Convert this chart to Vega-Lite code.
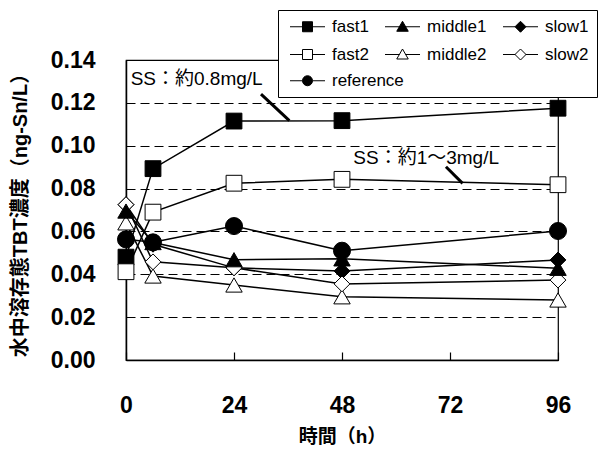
{
  "$schema": "https://vega.github.io/schema/vega-lite/v6.json",
  "autosize": {"type": "none"},
  "padding": {"left": 126, "top": 60, "right": 40, "bottom": 90},
  "width": 432,
  "height": 300,
  "background": "white",
  "config": {
    "view": {"stroke": "black", "strokeWidth": 1.2},
    "font": "Liberation Sans, Noto Sans CJK JP",
    "legend": {
      "symbolStrokeWidth": 1,
      "orient": "none",
      "columns": 3, "direction": "horizontal",
      "padding": 8,
      "labelFont": "Liberation Sans", "labelFontSize": 17, "labelColor": "black",
      "labelOffset": 16, "symbolOffset": 13,
      "symbolSize": 100,
      "rowPadding": 10, "columnPadding": 12
    }
  },
  "datasets": {
    "series": [
      {"series": "fast1", "hour": 0, "conc": 0.048},
      {"series": "fast1", "hour": 6, "conc": 0.0893},
      {"series": "fast1", "hour": 24, "conc": 0.1115},
      {"series": "fast1", "hour": 48, "conc": 0.1117},
      {"series": "fast1", "hour": 96, "conc": 0.1175},
      {"series": "fast2", "hour": 0, "conc": 0.0412},
      {"series": "fast2", "hour": 6, "conc": 0.069},
      {"series": "fast2", "hour": 24, "conc": 0.0825},
      {"series": "fast2", "hour": 48, "conc": 0.0843},
      {"series": "fast2", "hour": 96, "conc": 0.0818},
      {"series": "middle2", "hour": 0, "conc": 0.064},
      {"series": "middle2", "hour": 6, "conc": 0.0392},
      {"series": "middle2", "hour": 24, "conc": 0.035},
      {"series": "middle2", "hour": 48, "conc": 0.0295},
      {"series": "middle2", "hour": 96, "conc": 0.028},
      {"series": "slow1", "hour": 0, "conc": 0.0725},
      {"series": "slow1", "hour": 6, "conc": 0.054},
      {"series": "slow1", "hour": 24, "conc": 0.043},
      {"series": "slow1", "hour": 48, "conc": 0.0415},
      {"series": "slow1", "hour": 96, "conc": 0.0467},
      {"series": "slow2", "hour": 0, "conc": 0.0725},
      {"series": "slow2", "hour": 6, "conc": 0.0458},
      {"series": "slow2", "hour": 24, "conc": 0.043},
      {"series": "slow2", "hour": 48, "conc": 0.0355},
      {"series": "slow2", "hour": 96, "conc": 0.0373},
      {"series": "middle1", "hour": 0, "conc": 0.0695},
      {"series": "middle1", "hour": 6, "conc": 0.0548},
      {"series": "middle1", "hour": 24, "conc": 0.0468},
      {"series": "middle1", "hour": 48, "conc": 0.0472},
      {"series": "middle1", "hour": 96, "conc": 0.0428},
      {"series": "reference", "hour": 0, "conc": 0.0563},
      {"series": "reference", "hour": 6, "conc": 0.0549},
      {"series": "reference", "hour": 24, "conc": 0.0625},
      {"series": "reference", "hour": 48, "conc": 0.051},
      {"series": "reference", "hour": 96, "conc": 0.0602}
    ],
    "notes": [
      {"label": "SS：約0.8mg/L", "hour": 15.7, "conc": 0.1311},
      {"label": "SS：約1〜3mg/L", "hour": 66.7, "conc": 0.0943}
    ],
    "callouts": [
      {"hour": 30.0, "conc": 0.1241, "hour2": 36.3, "conc2": 0.1117},
      {"hour": 71.1, "conc": 0.0902, "hour2": 74.8, "conc2": 0.0824}
    ]
  },
  "encoding": {
    "x": {
      "field": "hour", "type": "quantitative",
      "scale": {"domain": [0, 96], "nice": false, "zero": false},
      "axis": {
        "title": "時間（h）",
        "values": [0, 24, 48, 72, 96],
        "grid": false,
        "domainColor": "black", "domainWidth": 1.5,
        "tickColor": "black", "tickSize": -8, "tickWidth": 1.2,
        "labelPadding": 42,
        "labelFont": "Liberation Sans", "labelFontSize": 23, "labelFontWeight": "bold", "labelColor": "black",
        "labelFlush": false,
        "titleFont": "Liberation Sans, Noto Sans CJK JP", "titleFontSize": 19, "titleFontWeight": "bold", "titleColor": "black",
        "titlePadding": 10
      }
    },
    "y": {
      "field": "conc", "type": "quantitative",
      "scale": {"domain": [0, 0.14], "nice": false, "zero": false},
      "axis": {
        "title": "水中溶存態TBT濃度（ng-Sn/L）",
        "values": [0, 0.02, 0.04, 0.06, 0.08, 0.1, 0.12, 0.14],
        "format": ".2f",
        "grid": true, "gridColor": "black", "gridDash": [9, 5], "gridWidth": 1, "gridOpacity": 1,
        "domainColor": "black", "domainWidth": 1.5,
        "ticks": false, "tickSize": 0,
        "labelPadding": 31,
        "labelFont": "Liberation Sans", "labelFontSize": 23, "labelFontWeight": "bold", "labelColor": "black",
        "labelFlush": false,
        "titleFont": "Liberation Sans, Noto Sans CJK JP", "titleFontSize": 20, "titleFontWeight": "bold", "titleColor": "black",
        "titlePadding": 20
      }
    }
  },
  "layer": [
    {
      "data": {"name": "series"},
      "mark": {"type": "line", "color": "black", "strokeWidth": 1.5},
      "encoding": {"detail": {"field": "series"}}
    },
    {
      "data": {"name": "series"},
      "transform": [{"filter": {"field": "series", "equal": "fast1"}}],
      "mark": {"type": "point", "shape": "square", "filled": true, "fill": "black", "stroke": "black", "strokeWidth": 1, "size": 250, "opacity": 1}
    },
    {
      "data": {"name": "series"},
      "transform": [{"filter": {"field": "series", "equal": "fast2"}}],
      "mark": {"type": "point", "shape": "square", "filled": true, "fill": "white", "stroke": "black", "strokeWidth": 1, "size": 250, "opacity": 1}
    },
    {
      "data": {"name": "series"},
      "transform": [{"filter": {"field": "series", "equal": "middle2"}}],
      "mark": {"type": "point", "shape": "triangle-up", "filled": true, "fill": "white", "stroke": "black", "strokeWidth": 1, "size": 270, "opacity": 1}
    },
    {
      "data": {"name": "series"},
      "transform": [{"filter": {"field": "series", "equal": "slow1"}}],
      "mark": {"type": "point", "shape": "diamond", "filled": true, "fill": "black", "stroke": "black", "strokeWidth": 1, "size": 250, "opacity": 1}
    },
    {
      "data": {"name": "series"},
      "transform": [{"filter": {"field": "series", "equal": "slow2"}}],
      "mark": {"type": "point", "shape": "diamond", "filled": true, "fill": "white", "stroke": "black", "strokeWidth": 1, "size": 250, "opacity": 1}
    },
    {
      "data": {"name": "series"},
      "transform": [{"filter": {"field": "series", "equal": "middle1"}}],
      "mark": {"type": "point", "shape": "triangle-up", "filled": true, "fill": "black", "stroke": "black", "strokeWidth": 1, "size": 270, "opacity": 1}
    },
    {
      "data": {"name": "series"},
      "transform": [{"filter": {"field": "series", "equal": "reference"}}],
      "mark": {"type": "point", "shape": "circle", "filled": true, "fill": "black", "stroke": "black", "strokeWidth": 1, "size": 290, "opacity": 1}
    },
    {
      "data": {"name": "series"},
      "transform": [{"filter": {"field": "series", "equal": "none"}}],
      "mark": {"type": "point", "filled": true, "strokeWidth": 1, "size": 100, "opacity": 1},
      "encoding": {
        "shape": {
          "field": "series", "type": "nominal",
          "scale": {
            "domain": ["fast1", "middle1", "slow1", "fast2", "middle2", "slow2"],
            "range": [
              "M-3.5,0H-1M1,0H3.5M-1,-1H1V1H-1Z",
              "M-3.5,0H-0.6M0.6,0H3.5M0,-1.1L1.15,0.9L-1.15,0.9Z",
              "M-3.5,0H-1M1,0H3.5M0,-1.1L1.1,0L0,1.1L-1.1,0Z",
              "M-3.5,0H-1M1,0H3.5M-1,-1H1V1H-1Z",
              "M-3.5,0H-0.6M0.6,0H3.5M0,-1.1L1.15,0.9L-1.15,0.9Z",
              "M-3.5,0H-1M1,0H3.5M0,-1.1L1.1,0L0,1.1L-1.1,0Z"
            ]
          },
          "legend": {"title": " ", "titleOrient": "bottom", "titleFontSize": 17, "titlePadding": 10, "legendX": 152, "legendY": -50, "strokeColor": "black", "fillColor": "white", "zindex": 0}
        },
        "fill": {
          "field": "series", "type": "nominal",
          "scale": {
            "domain": ["fast1", "middle1", "slow1", "fast2", "middle2", "slow2"],
            "range": ["black", "black", "black", "white", "white", "white"]
          },
          "legend": {"title": " ", "titleOrient": "bottom", "titleFontSize": 17, "titlePadding": 10, "legendX": 152, "legendY": -50, "strokeColor": "black", "fillColor": "white", "zindex": 0}
        },
        "stroke": {
          "field": "series", "type": "nominal",
          "scale": {
            "domain": ["fast1", "middle1", "slow1", "fast2", "middle2", "slow2"],
            "range": ["black", "black", "black", "black", "black", "black"]
          },
          "legend": {"title": " ", "titleOrient": "bottom", "titleFontSize": 17, "titlePadding": 10, "legendX": 152, "legendY": -50, "strokeColor": "black", "fillColor": "white", "zindex": 0}
        }
      }
    },
    {
      "data": {"name": "series"},
      "transform": [{"filter": {"field": "series", "equal": "none"}}],
      "mark": {"type": "point", "filled": true, "strokeWidth": 1, "size": 100, "opacity": 1},
      "encoding": {
        "shape": {
          "field": "series", "type": "nominal",
          "scale": {
            "domain": ["reference"],
            "range": ["M-3.5,0H-1M1,0H3.5M1,0A1,1,0,1,1,-1,0A1,1,0,1,1,1,0Z"]
          },
          "legend": {"title": null, "legendX": 152, "legendY": 4, "strokeColor": "transparent", "fillColor": "transparent", "zindex": 2}
        },
        "fill": {
          "field": "series", "type": "nominal",
          "scale": {"domain": ["reference"], "range": ["black"]},
          "legend": {"title": null, "legendX": 152, "legendY": 4, "strokeColor": "transparent", "fillColor": "transparent", "zindex": 2}
        },
        "stroke": {
          "field": "series", "type": "nominal",
          "scale": {"domain": ["reference"], "range": ["black"]},
          "legend": {"title": null, "legendX": 152, "legendY": 4, "strokeColor": "transparent", "fillColor": "transparent", "zindex": 2}
        }
      }
    },
    {
      "data": {"name": "callouts"},
      "mark": {"type": "rule", "color": "black", "strokeWidth": 3},
      "encoding": {
        "x2": {"field": "hour2"},
        "y2": {"field": "conc2"}
      }
    },
    {
      "data": {"name": "notes"},
      "mark": {"type": "text", "font": "Liberation Sans, Noto Sans CJK JP", "fontSize": 19, "color": "black", "align": "center", "baseline": "middle"},
      "encoding": {"text": {"field": "label"}}
    }
  ],
  "resolve": {
    "scale": {"shape": "independent", "fill": "independent", "stroke": "independent"},
    "legend": {"shape": "independent", "fill": "independent", "stroke": "independent"}
  }
}
